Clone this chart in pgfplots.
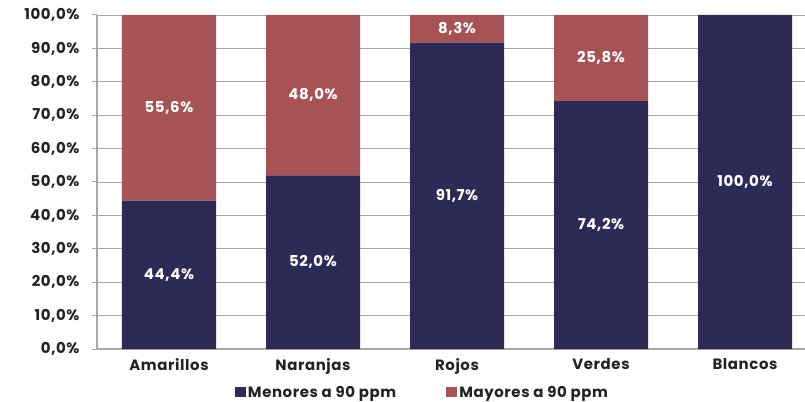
\documentclass[border=0pt]{standalone}
\usepackage{pgfplots}
\pgfplotsset{compat=1.18}
\usepackage{fontspec}
\setmainfont{Poppins}[LetterSpace=4]
\definecolor{navy}{HTML}{2D2B55}
\definecolor{brick}{HTML}{A55355}
\definecolor{gridc}{HTML}{A8A8A8}
\definecolor{txt}{HTML}{222222}
\begin{document}
\begin{tikzpicture}
\begin{axis}[
  at={(97bp,53bp)}, anchor=south west,
  scale only axis, width=720bp, height=334bp,
  xmin=-0.5, xmax=4.5, ymin=0, ymax=100,
  ybar stacked, bar width=94bp,
  axis x line*=bottom, axis y line*=left,
  axis line style={gridc, line width=1.2bp, -},
  ymajorgrids, grid style={gridc, line width=0.9bp},
  ytick={0,10,...,100},
  yticklabel={\pgfmathprintnumber[fixed,fixed zerofill,precision=1,use comma]{\tick}\%},
  /pgf/number format/assume math mode=true,
  xtick={0,1,2,3,4},
  xticklabels={Amarillos,Naranjas,Rojos,Verdes,Blancos},
  tick align=outside, major tick length=5bp,
  tick style={gridc, line width=1bp},
  x tick style={draw=none},
  extra x ticks={-0.5,0.5,1.5,2.5,3.5},
  extra x tick labels={},
  extra x tick style={grid=none, major tick length=5bp, tick style={draw=gridc, line width=1bp}},
  ticklabel style={font=\fontsize{15}{18}\selectfont\bfseries, text=txt},
  yticklabel style={xshift=-9bp},
  xticklabel style={yshift=-1bp},
  legend style={draw=none, at={(0.452,-0.13)}, anchor=center, legend columns=2,
    font=\fontsize{15}{18}\selectfont\bfseries, text=txt,
    /tikz/every even column/.append style={column sep=48bp}},
  legend image code/.code={\fill[#1] (0bp,-5bp) rectangle (11bp,5bp);},
  clip=false,
]
\addplot[fill=navy, draw=none] coordinates {(0,44.4) (1,52.0) (2,91.7) (3,74.2) (4,100.0)};
\addlegendentry{Menores a 90 ppm}
\addplot[fill=brick, draw=none] coordinates {(0,55.6) (1,48.0) (2,8.3) (3,25.8) (4,0)};
\addlegendentry{Mayores a 90 ppm}
\end{axis}
\begin{axis}[
  at={(97bp,53bp)}, anchor=south west,
  scale only axis, width=720bp, height=334bp,
  xmin=-0.5, xmax=4.5, ymin=0, ymax=100,
  hide axis, clip=false,
]
\addplot[draw=none, nodes near coords, point meta=explicit symbolic,
  every node near coord/.style={anchor=center, text=white, font=\fontsize{15}{18}\selectfont\bfseries}]
  coordinates {
  (0,22.2)[44,4\%] (0,72.2)[55,6\%]
  (1,26.0)[52,0\%] (1,76.0)[48,0\%]
  (2,45.85)[91,7\%] (2,95.85)[8,3\%]
  (3,37.1)[74,2\%] (3,87.1)[25,8\%]
  (4,50.0)[100,0\%]
  };
\end{axis}
\pgfresetboundingbox
\path[use as bounding box] (0,0) rectangle (805bp,402bp);
\end{tikzpicture}
\end{document}
